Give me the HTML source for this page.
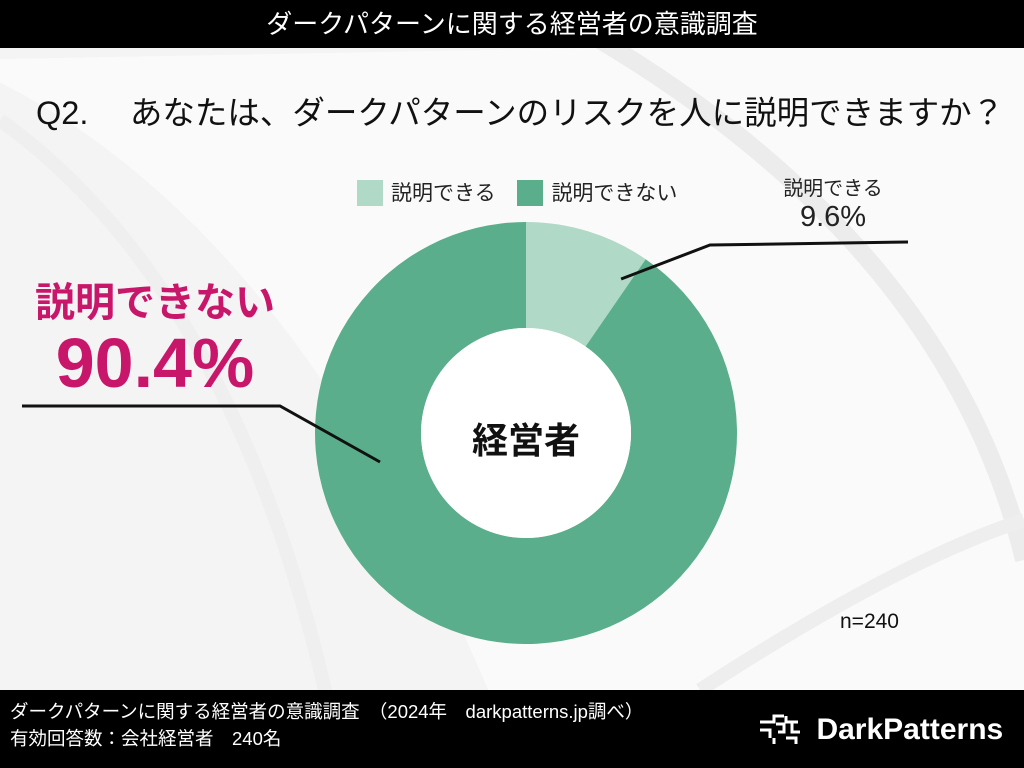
<!DOCTYPE html>
<html><head><meta charset="utf-8">
<style>
html,body{margin:0;padding:0}
body{width:1024px;height:768px;position:relative;overflow:hidden;background:#f6f6f6;font-family:"Liberation Sans","Noto Sans CJK JP",sans-serif}
.abs{position:absolute}
</style></head>
<body>
<svg class="abs" style="left:0;top:0" width="1024" height="768">
<rect x="0" y="0" width="1024" height="768" fill="#f4f4f4"/>
<path d="M-50 60 Q 300 200 520 768 L 1024 768 L1024 40 Z" fill="#fafafa"/>
<path d="M600 40 Q 950 250 1024 560" stroke="#ececec" stroke-width="18" fill="none"/>
<path d="M0 120 Q 250 300 340 760" stroke="#efefef" stroke-width="14" fill="none"/>
<path d="M700 690 Q 900 560 1024 520" stroke="#eeeeee" stroke-width="14" fill="none"/>
</svg>
<div class="abs" style="left:0;top:0;width:1024px;height:48px;background:#000;color:#fff;font-size:26px;text-align:center;line-height:48px">ダークパターンに関する経営者の意識調査</div>
<div class="abs" style="left:36px;top:87px;font-size:32.5px;color:#111;white-space:nowrap">Q2.　 あなたは、ダークパターンのリスクを人に説明できますか？</div>
<div class="abs" style="left:357px;top:180px;font-size:21px;color:#222;white-space:nowrap;line-height:28px">
<span><span style="display:inline-block;width:26px;height:26px;background:#b1d9c7;vertical-align:-6px;margin-right:8px"></span>説明できる</span>
<span style="margin-left:16px"><span style="display:inline-block;width:26px;height:26px;background:#5aae8b;vertical-align:-6px;margin-right:8px"></span>説明できない</span>
</div>
<svg id="chart" class="abs" style="left:0;top:0" width="1024" height="768"></svg>
<div class="abs" style="left:763px;top:175px;width:140px;text-align:center;font-size:20px;color:#222;line-height:28px">説明できる<br><span style="font-size:29px">9.6%</span></div>
<div class="abs" style="left:20px;top:283px;width:270px;text-align:center;color:#c8166a;font-weight:bold;line-height:1">
<div style="font-size:40px">説明できない</div><div style="font-size:70px;margin-top:5px">90.4%</div></div>
<div class="abs" style="left:426px;top:412px;width:200px;text-align:center;font-size:36px;font-weight:bold;color:#111">経営者</div>
<div class="abs" style="left:840px;top:610px;font-size:21px;color:#111">n=240</div>
<div class="abs" style="left:0;top:690px;width:1024px;height:78px;background:#000;color:#fff">
<div style="position:absolute;left:10px;top:8px;font-size:18.5px;line-height:27px;white-space:nowrap">ダークパターンに関する経営者の意識調査　（2024年　darkpatterns.jp調べ）<br>有効回答数：会社経営者　240名</div>
<div style="position:absolute;left:756px;top:20px;white-space:nowrap">
<svg width="48" height="40" style="vertical-align:middle"><g stroke="#fff" stroke-width="3" fill="none"><path d="M4 12h14v-6h10M4 20h10v8M20 14h8v8h-6M30 6v6h12M36 12v10h8M30 28h10v6M18 28v6"/></g></svg>
<span style="font-size:30px;font-weight:bold;vertical-align:middle;margin-left:8px">DarkPatterns</span></div>
</div>
<script>
const categories = ["説明できる", "説明できない"];
const values = [9.6, 90.4];
const colors = ["#b1d9c7", "#5aae8b"];
const cx = 526, cy = 433, R = 211, r = 105;
const svg = document.getElementById('chart');
const NS = "http://www.w3.org/2000/svg";
const total = values.reduce((a,b)=>a+b,0);
function pt(angle, rad){return [cx + rad*Math.sin(angle), cy - rad*Math.cos(angle)];}
let start = 0;
const ends = [];
values.forEach((v,i)=>{
  const a0 = start/total*2*Math.PI, a1 = (start+v)/total*2*Math.PI;
  const large = (a1-a0) > Math.PI ? 1 : 0;
  const [x0,y0]=pt(a0,R),[x1,y1]=pt(a1,R),[x2,y2]=pt(a1,r),[x3,y3]=pt(a0,r);
  const p = document.createElementNS(NS,'path');
  p.setAttribute('d',`M${x0} ${y0}A${R} ${R} 0 ${large} 1 ${x1} ${y1}L${x2} ${y2}A${r} ${r} 0 ${large} 0 ${x3} ${y3}Z`);
  p.setAttribute('fill',colors[i]);
  
  
  svg.appendChild(p);
  ends.push(a1);
  start += v;
});
const c = document.createElementNS(NS,'circle');
c.setAttribute('cx',cx);c.setAttribute('cy',cy);c.setAttribute('r',r);c.setAttribute('fill','#fff');


svg.appendChild(c);
const a = pt(ends[0] - 0.05, 181);
const l1 = document.createElementNS(NS,'polyline');
l1.setAttribute('points',`${a[0]},${a[1]} 710,245 908,242`);
l1.setAttribute('stroke','#111');l1.setAttribute('stroke-width','3');l1.setAttribute('fill','none');


svg.appendChild(l1);
const l2 = document.createElementNS(NS,'polyline');
l2.setAttribute('points',`380,462 280,406 22,406`);
l2.setAttribute('stroke','#111');l2.setAttribute('stroke-width','3');l2.setAttribute('fill','none');


svg.appendChild(l2);
</script>
</body></html>
